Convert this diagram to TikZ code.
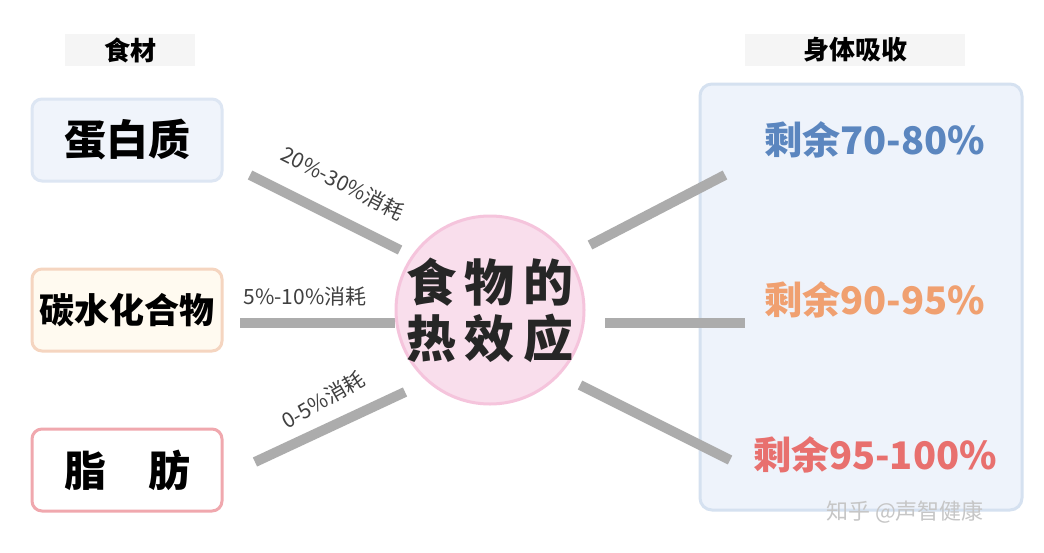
\documentclass[tikz,border=0pt]{standalone}
\usepackage{fontspec}
\newfontfamily\cjk{Noto Sans CJK SC}
\definecolor{abd}{RGB}{221,230,243}\definecolor{abf}{RGB}{240,244,251}
\definecolor{bbd}{RGB}{245,213,192}\definecolor{bbf}{RGB}{255,250,240}
\definecolor{cbd}{RGB}{240,168,174}
\definecolor{pbd}{RGB}{213,225,240}\definecolor{pbf}{RGB}{238,243,251}
\definecolor{mf}{RGB}{249,222,236}\definecolor{mb}{RGB}{245,196,220}
\definecolor{r1c}{RGB}{91,134,191}\definecolor{r2c}{RGB}{240,160,112}\definecolor{r3c}{RGB}{232,112,110}
\begin{document}
\begin{tikzpicture}[x=1pt,y=-1pt,
  hdr/.style={fill=gray!8,minimum width=#1,minimum height=30pt,font=\cjk\bfseries\fontsize{26}{26}\selectfont},
  food/.style={draw=#1,line width=3pt,rounded corners=10pt,minimum width=190pt,minimum height=82pt,font=\cjk\bfseries\fontsize{42}{42}\selectfont},
  link/.style={draw=gray!65,line width=10pt},
  lab/.style={font=\cjk\fontsize{21}{21}\selectfont,text=black!75},
  res/.style={font=\cjk\bfseries\fontsize{38}{38}\selectfont,text=#1}]
\useasboundingbox (0,0) rectangle (1044,552);
\fill[white] (0,0) rectangle (1044,552);
\node[hdr=130pt] (h1) at (130,50) {食材};
\node[hdr=220pt] (h2) at (855,50) {身体吸收};
\node[food=abd,fill=abf] (a) at (127,140) {蛋白质};
\node[food=bbd,fill=bbf,font=\cjk\bfseries\fontsize{35}{35}\selectfont] (b) at (127,310) {碳水化合物};
\node[food=cbd,fill=white] (c) at (127,470) {脂\quad 肪};
\draw[draw=pbd,line width=3pt,fill=pbf,rounded corners=12pt] (700,84) rectangle (1022,510);
\coordinate (a1) at (250,175); \coordinate (a2) at (400,250);
\coordinate (b1) at (240,323); \coordinate (b2) at (395,323);
\coordinate (c1) at (255,462); \coordinate (c2) at (405,392);
\coordinate (r1) at (590,245); \coordinate (r2) at (725,175);
\coordinate (s1) at (605,323); \coordinate (s2) at (745,323);
\coordinate (t1) at (580,385); \coordinate (t2) at (730,460);
\foreach \p/\q in {a1/a2,b1/b2,c1/c2,r1/r2,s1/s2,t1/t2} \draw[link] (\p) -- (\q);
\node[circle,minimum size=188pt,fill=mf,draw=mb,line width=3pt] (m) at (490,310) {};
\node[font=\cjk\bfseries\fontsize{50}{56}\selectfont,align=center,text=black!85] (mt) at (490,310) {食\,物\,的\\热\,效\,应};
\node[lab,rotate=-27] (l1) at (343,183) {20\%-30\%消耗};
\node[lab] (l2) at (305,297) {5\%-10\%消耗};
\node[lab,rotate=30] (l3) at (323,400) {0-5\%消耗};
\node[res=r1c] (x1) at (875,140) {剩余70-80\%};
\node[res=r2c] (x2) at (875,300) {剩余90-95\%};
\node[res=r3c] (x3) at (875,455) {剩余95-100\%};
\node[font=\cjk\fontsize{22}{22}\selectfont,text=gray!45] (w) at (905,512) {知乎 @声智健康};
\end{tikzpicture}
\end{document}
